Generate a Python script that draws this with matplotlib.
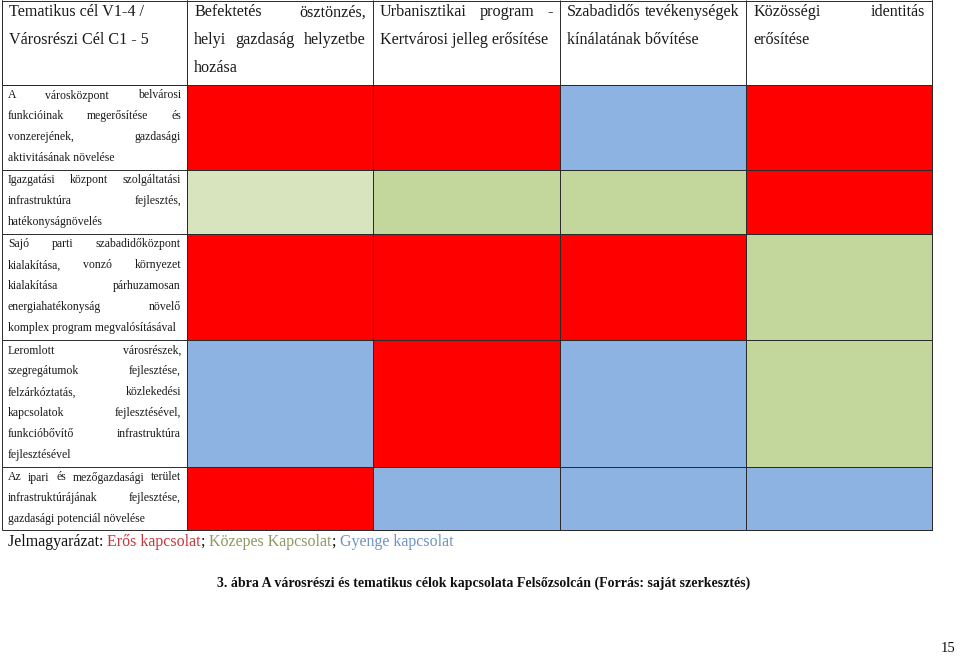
import matplotlib
matplotlib.use('Agg')
import matplotlib.pyplot as plt
from matplotlib.colors import ListedColormap
import numpy as np

# ---------------- data ----------------
col_headers = [
    "Tematikus cél V1-4 /\nVárosrészi Cél C1 - 5",
    "Befektetés ösztönzés,\nhelyi gazdaság helyzetbe\nhozása",
    "Urbanisztikai program -\nKertvárosi jelleg erősítése",
    "Szabadidős tevékenységek\nkínálatának bővítése",
    "Közösségi identitás\nerősítése",
]
row_labels = [
    "A városközpont belvárosi\nfunkcióinak megerősítése és\nvonzerejének, gazdasági\naktivitásának növelése",
    "Igazgatási központ szolgáltatási\ninfrastruktúra fejlesztés,\nhatékonyságnövelés",
    "Sajó parti szabadidőközpont\nkialakítása, vonzó környezet\nkialakítása párhuzamosan\nenergiahatékonyság növelő\nkomplex program megvalósításával",
    "Leromlott városrészek,\nszegregátumok fejlesztése,\nfelzárkóztatás, közlekedési\nkapcsolatok fejlesztésével,\nfunkcióbővítő infrastruktúra\nfejlesztésével",
    "Az ipari és mezőgazdasági terület\ninfrastruktúrájának fejlesztése,\ngazdasági potenciál növelése",
]
# connection strength: E = erős, K = közepes, KV = közepes (világos), G = gyenge
strength = [
    ["E", "E", "G", "E"],
    ["KV", "K", "K", "E"],
    ["E", "E", "E", "K"],
    ["G", "E", "G", "K"],
    ["E", "G", "G", "G"],
]
categories = ["G", "KV", "K", "E"]
legend_parts = [("Jelmagyarázat: ", "#111111"), ("Erős kapcsolat", "#c8373c"),
                ("; ", "#111111"), ("Közepes Kapcsolat", "#8c9a62"),
                ("; ", "#111111"), ("Gyenge kapcsolat", "#7193c4")]
caption = "3. ábra A városrészi és tematikus célok kapcsolata Felsőzsolcán (Forrás: saját szerkesztés)"
page_number = "15"

# ---------------- layout / style ----------------
W, H = 960, 657
col_edges = [2, 187, 373, 560, 746, 932]
row_edges = [0, 85, 170, 234, 340, 467, 530]
cell_colors = ["#8db3e2", "#d7e4bd", "#c3d69b", "#ff0000"]
serif = ["Liberation Serif", "DejaVu Serif"]
line_col = "#2a2a2a"

fig = plt.figure(figsize=(W / 100, H / 100), dpi=100)
ax = fig.add_axes([0, 0, 1, 1])
ax.set_xlim(0, W)
ax.set_ylim(H, 0)
ax.axis('off')
renderer = fig.canvas.get_renderer()

# cells
idx = np.array([[categories.index(v) for v in row] for row in strength])
ax.pcolormesh(col_edges[1:], row_edges[1:], idx, cmap=ListedColormap(cell_colors),
              vmin=-0.5, vmax=len(categories) - 0.5, edgecolors=line_col, linewidth=0.55,
              shading='flat')

# table lines
lw = 0.7
ax.hlines(row_edges[0] + 0.6, col_edges[0], col_edges[-1], color=line_col, lw=lw)
ax.hlines(row_edges[1:], col_edges[0], col_edges[1], color=line_col, lw=lw)
ax.hlines(row_edges[1], col_edges[0], col_edges[-1], color=line_col, lw=lw)
ax.vlines(col_edges, row_edges[0], row_edges[1], color=line_col, lw=lw)
ax.vlines([col_edges[0], col_edges[1], col_edges[-1]], row_edges[0], row_edges[-1], color=line_col, lw=lw)


def put_line(text, x0, x1, y, size, justify, color="#1a1a1a"):
    words = text.split(' ')
    if not justify or len(words) == 1:
        ax.text(x0, y, text, fontsize=size, family=serif, va='center', ha='left', color=color)
        return
    arts = [ax.text(0, y, w, fontsize=size, family=serif, va='center', ha='left', color=color)
            for w in words]
    widths = [a.get_window_extent(renderer).width for a in arts]
    gap = (x1 - x0 - sum(widths)) / (len(words) - 1)
    x = x0
    for a, w in zip(arts, widths):
        a.set_x(x)
        x += w + gap


def put_par(text, x0, x1, ytop, step, size, justify=True):
    lines = text.split("\n")
    for i, ln in enumerate(lines):
        last = i == len(lines) - 1
        put_line(ln, x0, x1, ytop + i * step, size, justify and not last)


# header
for j, h in enumerate(col_headers):
    put_par(h, col_edges[j] + 7, col_edges[j + 1] - 7, 12.5, 27.5, 11.6, justify=(j > 0))

# row labels
for i, lab in enumerate(row_labels):
    put_par(lab, col_edges[0] + 6, col_edges[1] - 6, row_edges[i + 1] + 10.5, 20.9, 8.5)

# legend
x = 8
for txt, c in legend_parts:
    t = ax.text(x, 542, txt, fontsize=11.5, family=serif, va='center', ha='left', color=c)
    x += t.get_window_extent(renderer).width

# caption and page number
ax.text(484, 583, caption, fontsize=10.0, family=serif, weight='bold', va='center', ha='center',
        color="#111111")
ax.text(948, 649, page_number, fontsize=10.5, family=serif, va='center', ha='center', color="#111111")

fig.savefig("out.png", dpi=100)
